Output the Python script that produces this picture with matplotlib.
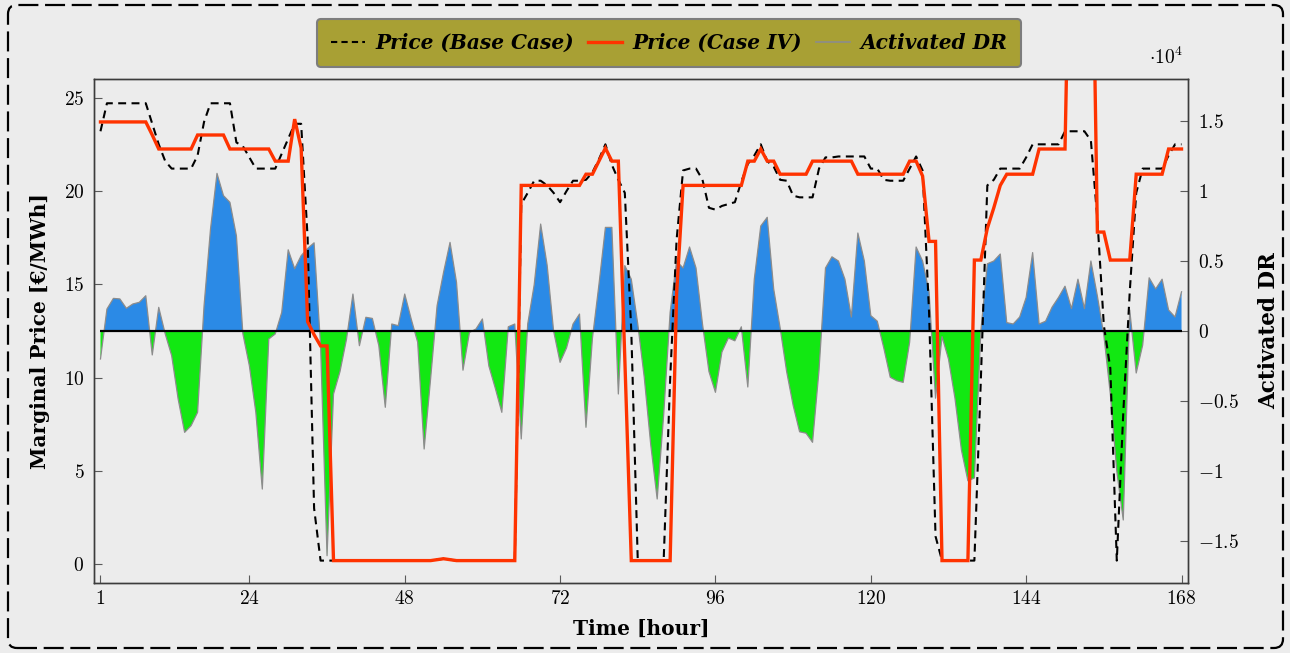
import numpy as np
import matplotlib
matplotlib.use("Agg")
import matplotlib.pyplot as plt
from matplotlib.lines import Line2D
from matplotlib.patches import FancyBboxPatch
from matplotlib.transforms import IdentityTransform
from matplotlib.ticker import FixedLocator, FuncFormatter

plt.rcParams["font.family"] = ["cmr10", "DejaVu Serif"]
plt.rcParams["mathtext.fontset"] = "cm"
plt.rcParams["axes.formatter.use_mathtext"] = True

hours = np.arange(1, 169)

# marginal price, base case [EUR/MWh]
price_base = [
    23.2, 24.7, 24.7, 24.7, 24.7, 24.7, 24.7, 24.7, 23.6, 22.5,
    21.6, 21.2, 21.2, 21.2, 21.2, 21.9, 23.7, 24.7, 24.7, 24.7,
    24.7, 22.6, 22.4, 21.8, 21.2, 21.2, 21.2, 21.2, 22.0, 22.8,
    23.6, 23.6, 17.5, 3.0, 0.2, 0.2, 0.2, 0.2, 0.2, 0.2,
    0.2, 0.2, 0.2, 0.2, 0.2, 0.2, 0.2, 0.2, 0.2, 0.2,
    0.2, 0.2, 0.25, 0.3, 0.25, 0.2, 0.2, 0.2, 0.2, 0.2,
    0.2, 0.2, 0.2, 0.2, 0.2, 19.3, 19.9, 20.55, 20.55, 20.3,
    19.9, 19.4, 20.0, 20.55, 20.55, 20.6, 21.0, 21.7, 22.5, 21.4,
    20.6, 19.9, 12.5, 0.2, 0.2, 0.2, 0.2, 0.2, 9.9, 17.4,
    21.1, 21.2, 21.2, 20.6, 19.1, 19.0, 19.2, 19.3, 19.4, 20.5,
    21.45, 21.9, 22.5, 21.6, 21.3, 20.6, 20.55, 19.75, 19.66, 19.66,
    19.66, 21.2, 21.8, 21.8, 21.85, 21.85, 21.85, 21.85, 21.85, 21.2,
    21.2, 20.6, 20.55, 20.55, 20.55, 21.2, 21.85, 21.1, 13.5, 1.5,
    0.2, 0.2, 0.2, 0.2, 0.2, 0.2, 9.9, 20.3, 20.6, 21.2,
    21.2, 21.2, 21.2, 21.8, 22.5, 22.5, 22.5, 22.5, 22.5, 23.2,
    23.2, 23.2, 23.2, 22.7, 18.5, 12.8, 10.5, 0.2, 8.1, 14.6,
    19.9, 21.2, 21.2, 21.2, 21.2, 21.9, 22.5, 22.5,
]

# marginal price, case IV [EUR/MWh]
price_case4 = [
    23.7, 23.7, 23.7, 23.7, 23.7, 23.7, 23.7, 23.7, 23.0, 22.25,
    22.25, 22.25, 22.25, 22.25, 22.25, 23.0, 23.0, 23.0, 23.0, 23.0,
    22.25, 22.25, 22.25, 22.25, 22.25, 22.25, 22.25, 21.6, 21.6, 21.6,
    23.85, 22.3, 13.0, 12.3, 11.7, 11.7, 0.2, 0.2, 0.2, 0.2,
    0.2, 0.2, 0.2, 0.2, 0.2, 0.2, 0.2, 0.2, 0.2, 0.2,
    0.2, 0.2, 0.25, 0.3, 0.25, 0.2, 0.2, 0.2, 0.2, 0.2,
    0.2, 0.2, 0.2, 0.2, 0.2, 20.3, 20.3, 20.3, 20.3, 20.3,
    20.3, 20.3, 20.3, 20.3, 20.3, 20.9, 20.9, 21.6, 22.3, 21.6,
    21.6, 11.0, 0.2, 0.2, 0.2, 0.2, 0.2, 0.2, 0.2, 14.5,
    20.3, 20.3, 20.3, 20.3, 20.3, 20.3, 20.3, 20.3, 20.3, 20.3,
    21.6, 21.6, 22.25, 21.6, 21.6, 20.9, 20.9, 20.9, 20.9, 20.9,
    21.6, 21.6, 21.6, 21.6, 21.6, 21.6, 21.6, 20.9, 20.9, 20.9,
    20.9, 20.9, 20.9, 20.9, 20.9, 21.6, 21.6, 20.8, 17.3, 17.3,
    0.2, 0.2, 0.2, 0.2, 0.2, 16.3, 16.3, 18.0, 19.1, 20.3,
    20.9, 20.9, 20.9, 20.9, 20.9, 22.25, 22.25, 22.25, 22.25, 22.25,
    40.0, 40.0, 40.0, 40.0, 17.8, 17.8, 16.3, 16.3, 16.3, 16.3,
    20.9, 20.9, 20.9, 20.9, 20.9, 22.25, 22.25, 22.25,
]

# activated demand response
activated_dr = [
    -2000, 1570, 2330, 2290, 1620, 1930, 2050, 2520, -1710, 1690,
    -200, -1760, -4860, -7240, -6760, -5810, 1800, 7290, 11260, 9670,
    9190, 6800, -200, -2480, -5810, -11290, -570, -210, 1330, 5800,
    4450, 5380, 5900, 6300, -1000, -16050, -4500, -2900, -600, 2640,
    -1050, 980, 900, -1050, -5450, 500, 380, 2640, 860, -800,
    -8430, -3400, 1810, 4190, 6330, 3480, -2800, -100, 140, 860,
    -2500, -4100, -5810, 300, 500, -7710, 500, 3300, 7640, 4700,
    0, -2240, -1200, 500, 1210, -6880, -500, 3300, 7400, 7400,
    -4500, 4670, 3700, 500, -3300, -8100, -12000, -6000, 1330, 5000,
    4500, 6000, 4500, 500, -2900, -4380, -1500, -500, -700, 300,
    -4000, 3700, 7500, 8120, 3000, 200, -2900, -5300, -7200, -7300,
    -7950, -2800, 4500, 5300, 5000, 3700, 1000, 7000, 5000, 1100,
    700, -1200, -3300, -3550, -3670, -800, 6000, 5000, 2800, -4800,
    -400, -2000, -4800, -8500, -10700, -10500, 0, 4800, 5000, 5500,
    600, 500, 1000, 2400, 5600, 500, 700, 1700, 2400, 3200,
    1600, 3700, 1600, 5000, 2500, -300, -4500, -10000, -13500, 1500,
    -3000, -1000, 3800, 3000, 3700, 1500, 1000, 2800,
]

x_ticks = [1, 24, 48, 72, 96, 120, 144, 168]
price_ticks = [0, 5, 10, 15, 20, 25]
dr_ticks = [-15000, -10000, -5000, 0, 5000, 10000, 15000]

bg = "#ececec"
blue = "#2b8ae6"
green = "#12e812"
red = "#ff3300"
tick_col = "#5a5a5a"

fig = plt.figure(figsize=(12.9, 6.53), dpi=100, facecolor=bg)
ax = fig.add_axes([94 / 1290, 1 - 583 / 653, (1188 - 94) / 1290, (583 - 79) / 653])
ax2 = ax.twinx()

# price lines sit above the DR area
ax.set_zorder(ax2.get_zorder() + 1)
ax.patch.set_visible(False)
ax2.patch.set_facecolor(bg)

dr = np.array(activated_dr, dtype=float)
ax2.fill_between(hours, 0, dr, where=dr >= 0, interpolate=True, color=blue, lw=0)
ax2.fill_between(hours, 0, dr, where=dr <= 0, interpolate=True, color=green, lw=0)
ax2.plot(hours, dr, color="#8c8c8c", lw=0.9)
ax2.hlines(0, hours[0], hours[-1], color="black", lw=1.6)

ax.plot(hours, price_base, color="black", lw=1.5, ls=(0, (3.8, 2.6)))
ax.plot(hours, price_case4, color=red, lw=2.4, solid_joinstyle="miter")

ax.set_xlim(0, 169)
ax.set_ylim(-1, 26)
ax2.set_ylim(-18000, 18000)

ax.xaxis.set_major_locator(FixedLocator(x_ticks))
ax.yaxis.set_major_locator(FixedLocator(price_ticks))
ax2.yaxis.set_major_locator(FixedLocator(dr_ticks))
ax2.yaxis.set_major_formatter(FuncFormatter(
    lambda v, pos: r"$\mathdefault{%s}$" % ("%g" % (v / 1e4)).replace("-", "\u2212")))

for a in (ax, ax2):
    a.tick_params(direction="in", length=6, width=0.8, color=tick_col,
                  labelsize=14, pad=7)
    for s in a.spines.values():
        s.set_color("#3c3c3c")
        s.set_linewidth(1.0)
ax.tick_params(axis="y", left=True, right=False)
ax2.tick_params(axis="y", left=False, right=True)
ax.tick_params(axis="x", top=False, pad=5)

label_font = {"family": "DejaVu Serif", "weight": "bold", "size": 14.5}
ax.set_ylabel("Marginal Price [€/MWh]", fontdict=label_font, labelpad=10)
ax2.set_ylabel("Activated DR", fontdict={**label_font, "size": 15.5}, labelpad=14)
ax.set_xlabel("Time [hour]", fontdict=label_font, labelpad=8)

fig.text(1166 / 1290, 1 - 57 / 653, r"$\cdot 10^{4}$", fontsize=14, ha="center", va="center")

handles = [
    Line2D([], [], color="black", lw=1.5, ls=(0, (3.0, 2.0))),
    Line2D([], [], color=red, lw=2.4),
    Line2D([], [], color="#8c8c8c", lw=1.2),
]
labels = ["Price (Base Case)", "Price (Case IV)", "Activated DR"]
leg = fig.legend(handles, labels, loc="center", ncol=3,
                 bbox_to_anchor=(669 / 1290, 1 - 43 / 653),
                 prop={"family": "DejaVu Serif", "style": "italic",
                       "weight": "bold", "size": 14.5},
                 handlelength=1.7, handletextpad=0.5, columnspacing=0.7,
                 borderpad=0.7, borderaxespad=0, fancybox=True, framealpha=1)
leg.get_frame().set_facecolor("#a8a034")
leg.get_frame().set_edgecolor("#7d7d7d")
leg.get_frame().set_linewidth(1.5)

# dashed rounded border around the whole figure
frame = FancyBboxPatch((8, 653 - 648), 1283 - 8, 648 - 5,
                       boxstyle="round,pad=0,rounding_size=9",
                       transform=IdentityTransform(), fill=False,
                       edgecolor="black", lw=1.6, ls=(0, (9, 3)))
fig.patches.append(frame)

fig.savefig("out.png", dpi=100, facecolor=bg)
